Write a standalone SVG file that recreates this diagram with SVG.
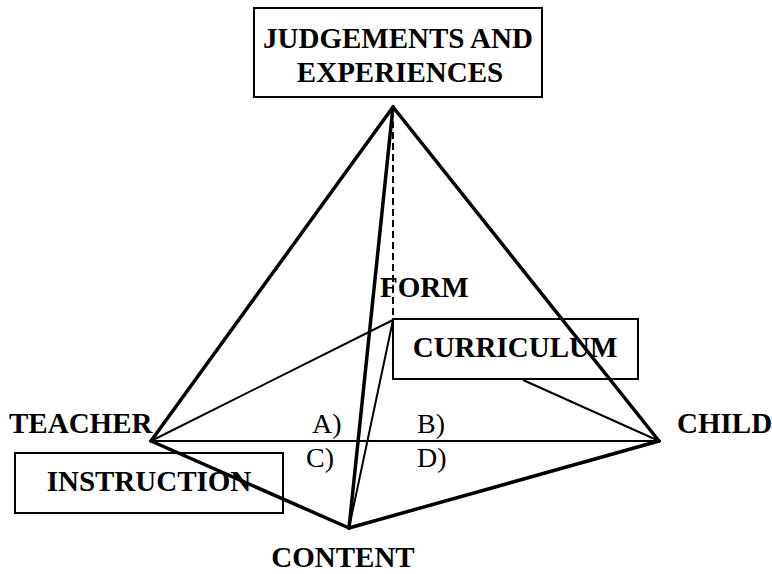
<svg xmlns="http://www.w3.org/2000/svg" width="772" height="574" viewBox="0 0 772 574">
<style>
.b{font-family:"Liberation Serif","Times New Roman",serif;font-weight:bold;font-size:29px;fill:#000}
.r{font-family:"Liberation Serif","Times New Roman",serif;font-size:28px;fill:#000}
.box{fill:#fff;stroke:#000;stroke-width:2}
.thick{stroke:#000;stroke-width:3.5;fill:none;stroke-linecap:round}
.thin{stroke:#000;stroke-width:2;fill:none}
.dash{stroke:#000;stroke-width:2;fill:none;stroke-dasharray:7 4}
</style>
<rect width="772" height="574" fill="#fff"/>
<g id="judgements">
<rect class="box" x="254" y="8" width="288" height="89"/>
<text class="b" x="398" y="48" text-anchor="middle">JUDGEMENTS AND</text>
<text class="b" x="400" y="82" text-anchor="middle">EXPERIENCES</text>
</g>
<g id="form">
<text class="b" x="380" y="297">FORM</text>
</g>
<g id="curriculum">
<rect class="box" x="393" y="319" width="245" height="60"/>
<text class="b" x="515" y="357" text-anchor="middle">CURRICULUM</text>
</g>
<g id="teacher">
<text class="b" x="9" y="433">TEACHER</text>
</g>
<g id="child">
<text class="b" x="677" y="433">CHILD</text>
</g>
<g id="instruction">
<rect class="box" x="15" y="453" width="268" height="60"/>
<text class="b" x="149" y="491" text-anchor="middle">INSTRUCTION</text>
</g>
<g id="content">
<text class="b" x="343" y="567" text-anchor="middle">CONTENT</text>
</g>
<g id="quadrants">
<text class="r" x="312" y="433">A)</text>
<text class="r" x="417" y="433">B)</text>
<text class="r" x="306" y="467">C)</text>
<text class="r" x="417" y="467">D)</text>
</g>
<g id="connectors">
<line class="thin" x1="151" y1="441" x2="659" y2="441"/>
<line class="thin" x1="151" y1="441" x2="393" y2="320"/>
<line class="thin" x1="393" y1="320" x2="349" y2="528"/>
<line class="thin" x1="523" y1="380" x2="659" y2="441"/>
<line class="dash" x1="393" y1="110" x2="393" y2="320"/>
<line class="thick" x1="393" y1="107" x2="151" y2="441"/>
<line class="thick" x1="393" y1="107" x2="659" y2="441"/>
<line class="thick" x1="393" y1="107" x2="349" y2="528"/>
<line class="thick" x1="151" y1="441" x2="349" y2="528"/>
<line class="thick" x1="349" y1="528" x2="659" y2="441"/>
</g>
</svg>
